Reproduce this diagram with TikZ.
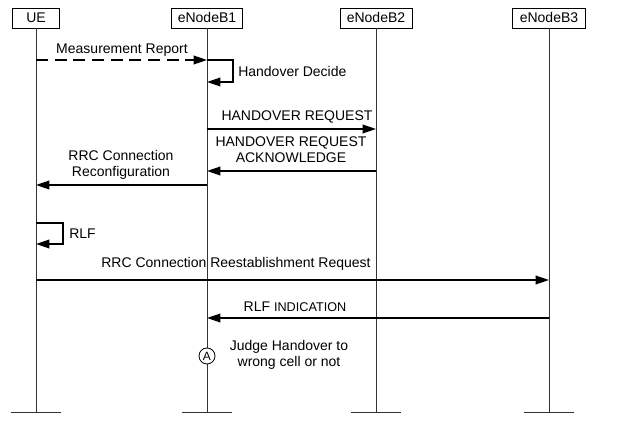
\documentclass[tikz,border=0pt]{standalone}
\usepackage{fontspec}
\setmainfont{Liberation Sans}
\usetikzlibrary{arrows.meta}
\tikzset{
entity/.style={draw, line width=0.6pt, inner sep=0pt, minimum height=15pt, font=\fontsize{10.5}{12}\selectfont},
lifeline/.style={line width=0.6pt, draw=black!80},
msg/.style={line width=1.1pt, -{Triangle[length=10pt,width=6.5pt]}},
msgtext/.style={inner sep=0pt, align=center, font=\fontsize{10.5}{12}\selectfont},
checkpoint/.style={draw, circle, line width=0.6pt, fill=white, minimum size=12pt, inner sep=0pt, font=\fontsize{9}{10}\selectfont}
}

\begin{document}
\begin{tikzpicture}[x=0.75pt, y=-0.75pt]
  \useasboundingbox (0,0) rectangle (622,427);
  \node[entity, minimum width=35pt] (ue) at (36,18) {UE};
  \node[entity, minimum width=53pt] (enb1) at (207,18) {eNodeB1};
  \node[entity, minimum width=54pt] (enb2) at (376,18) {eNodeB2};
  \node[entity, minimum width=55pt] (enb3) at (549,18) {eNodeB3};
  \coordinate (ue-end) at (36,412);
  \coordinate (enb1-end) at (207,412);
  \coordinate (enb2-end) at (376,412);
  \coordinate (enb3-end) at (549,412);
  \draw[lifeline] (ue) -- (ue-end);
  \draw[lifeline] (enb1) -- (enb1-end);
  \draw[lifeline] (enb2) -- (enb2-end);
  \draw[lifeline] (enb3) -- (enb3-end);
  \draw[lifeline] ([xshift=-19]ue-end) -- ([xshift=19]ue-end);
  \draw[lifeline] ([xshift=-19]enb1-end) -- ([xshift=19]enb1-end);
  \draw[lifeline] ([xshift=-19]enb2-end) -- ([xshift=19]enb2-end);
  \draw[lifeline] ([xshift=-19]enb3-end) -- ([xshift=19]enb3-end);

  \draw[msg, dashed, dash pattern=on 9pt off 5pt] (ue |- 0,60) -- (enb1 |- 0,60);
  \node[msgtext] (report) at (122,50) {Measurement Report};
  \draw[msg] (enb1 |- 0,60) -| (233,82) -- (enb1 |- 0,82);
  \node[msgtext, anchor=west] (decide) at (238,72) {Handover Decide};

  \draw[msg] (enb1 |- 0,129) -- (enb2 |- 0,129);
  \node[msgtext] (req) at (297,117) {HANDOVER REQUEST};
  \draw[msg] (enb2 |- 0,171) -- (enb1 |- 0,171);
  \node[msgtext] (ack) at (291,150) {HANDOVER REQUEST\\ACKNOWLEDGE};
  \draw[msg] (enb1 |- 0,185) -- (ue |- 0,185);
  \node[msgtext] (reconf) at (121,165) {RRC Connection\\Reconfiguration};

  \draw[msg] (ue |- 0,223) -| (63,244) -- (ue |- 0,244);
  \node[msgtext, anchor=west] (rlf) at (69,234) {RLF};
  \draw[msg] (ue |- 0,280) -- (enb3 |- 0,280);
  \node[msgtext] (reest) at (236,264) {RRC Connection Reestablishment Request};
  \draw[msg] (enb3 |- 0,318) -- (enb1 |- 0,318);
  \node[msgtext] (ind) at (295,307) {RLF {\fontsize{9.5}{12}\selectfont INDICATION}};

  \node[checkpoint] (judge-a) at (enb1 |- 0,356) {A};
  \node[msgtext] (judge) at (289,355) {Judge Handover to\\wrong cell or not};
\end{tikzpicture}
\end{document}
